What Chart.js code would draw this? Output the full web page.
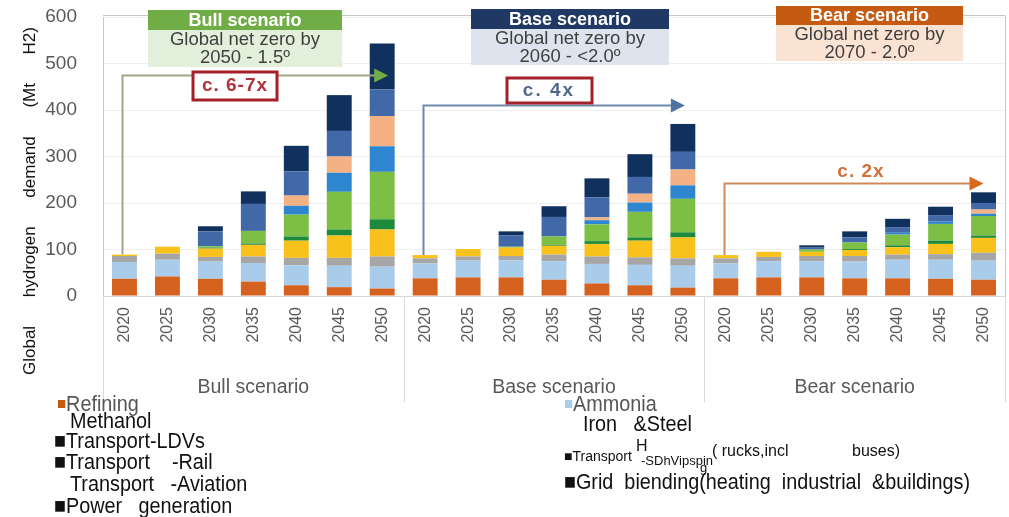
<!DOCTYPE html>
<html lang="en">
<head>
    <meta charset="UTF-8">
    <title>Global hydrogen demand</title>
    <script src="https://cdn.jsdelivr.net/npm/chart.js"></script>
    <style>
        body {
            margin: 0;
            background: #fff;
            width: 1009px;
            height: 517px;
            position: relative;
            overflow: hidden;
            font-family: "Liberation Sans", Arial, sans-serif;
        }

        #grafico {
            position: absolute;
            left: 0;
            top: 0;
        }

        .eixo-titulo {
            position: absolute;
            left: -144px;
            top: 191px;
            width: 348px;
            height: 20px;
            line-height: 20px;
            font-size: 17px;
            color: #111;
            display: flex;
            justify-content: space-between;
            transform: rotate(-90deg);
        }

        .leg {
            position: absolute;
            white-space: pre;
            line-height: 22px;
            font-size: 22px;
            color: #111;
            transform: scaleX(0.9);
            transform-origin: 0 50%;
        }

        .leg-n {
            position: absolute;
            white-space: pre;
            line-height: 18px;
            color: #111;
        }

        .quad {
            display: inline-block;
            width: 8px;
            height: 8px;
            margin-right: 1px;
            vertical-align: 3px;
        }
    </style>
</head>

<body>
    <canvas id="grafico" width="1009" height="517"></canvas>

    <div class="eixo-titulo"><span>Global</span><span>hydrogen</span><span>demand</span><span>(Mt</span><span>H2)</span></div>

    <!-- legenda (coluna esquerda) -->
    <div class="leg" style="left:58px; top:393px; color:#555"><span class="quad" style="background:#C55A11"></span>Refining</div>
    <div class="leg" style="left:70px; top:410px">Methanol</div>
    <div class="leg" style="left:54px; top:430px">■Transport-LDVs</div>
    <div class="leg" style="left:54px; top:451px">■Transport    -Rail</div>
    <div class="leg" style="left:70px; top:473px">Transport   -Aviation</div>
    <div class="leg" style="left:54px; top:495px">■Power   generation</div>

    <!-- legenda (coluna direita) -->
    <div class="leg" style="left:565px; top:393px; color:#555"><span class="quad" style="background:#A9CCEB"></span>Ammonia</div>
    <div class="leg" style="left:583px; top:413px">Iron   &amp;Steel</div>
    <div class="leg-n" style="left:564px; top:447px; font-size:14px">■Transport</div>
    <div class="leg-n" style="left:636px; top:437px; font-size:16px">H</div>
    <div class="leg-n" style="left:641px; top:452px; font-size:13px">-SDhVipspin</div>
    <div class="leg-n" style="left:700px; top:459px; font-size:13px">g</div>
    <div class="leg-n" style="left:712px; top:442px; font-size:16px">( rucks,incl</div>
    <div class="leg-n" style="left:852px; top:442px; font-size:16px">buses)</div>
    <div class="leg" style="left:564px; top:471px">■Grid  biending(heating  industrial  &amp;buildings)</div>

    <script>
        // categorias
        const scenarios = ['Bull scenario', 'Base scenario', 'Bear scenario'];
        const years = ['2020', '2025', '2030', '2035', '2040', '2045', '2050'];

        // valores (Mt H2) - 7 bull, 7 base, 7 bear
        const refining  = [37, 42, 37, 31, 23, 19, 16,   38, 40, 40, 35, 27, 23, 18,   38, 40, 40, 38, 38, 37, 35];
        const ammonia   = [36, 36, 37, 40, 43, 46, 47,   32, 36, 37, 40, 42, 44, 47,   32, 35, 35, 36, 40, 41, 41];
        const methanol  = [13, 13, 10, 14, 16, 17, 22,   11,  9,  9, 14, 16, 16, 16,   11,  9, 11, 12, 11, 12, 17];
        const ironSteel = [ 3, 15, 18, 25, 37, 48, 58,    7, 16, 18, 19, 27, 36, 45,    7, 11,  9, 13, 16, 22, 32];
        const ldvs      = [ 0,  0,  2,  3,  9, 13, 22,    0,  0,  0,  2,  6,  7, 11,    0,  0,  0,  2,  4,  7,  5];
        const hdvs      = [ 0,  0,  3, 27, 47, 81, 102,   0,  0,  2, 18, 36, 55, 72,    0,  0,  5, 14, 23, 36, 42];
        const rail      = [ 0,  0,  0,  0,  0,  0,  0,    0,  0,  0,  0,  0,  0,  0,    0,  0,  0,  0,  0,  0,  0];
        const shipping  = [ 0,  0,  0,  0, 19, 41, 55,    0,  0,  0,  0,  9, 20, 29,    0,  0,  0,  0,  4,  5,  5];
        const aviation  = [ 0,  0,  0,  0, 22, 35, 65,    0,  0,  0,  0,  6, 19, 34,    0,  0,  0,  0,  0,  0,  9];
        const power     = [ 0,  0, 32, 58, 52, 55, 57,    0,  0, 24, 42, 43, 36, 38,    0,  0,  4, 11, 11, 14, 14];
        const grid      = [ 0,  0, 11, 27, 55, 77, 99,    0,  0,  9, 23, 41, 49, 60,    0,  0,  5, 13, 19, 18, 23];

        const series = [
            { label: 'Refining', data: refining, color: '#D4621E' },
            { label: 'Ammonia', data: ammonia, color: '#A9CCEB' },
            { label: 'Methanol', data: methanol, color: '#A6A6A6' },
            { label: 'Iron & Steel', data: ironSteel, color: '#F9C11C' },
            { label: 'Transport-LDVs', data: ldvs, color: '#1C8A3A' },
            { label: 'Transport-HDVs (trucks, incl. buses)', data: hdvs, color: '#7DBF45' },
            { label: 'Transport-Rail', data: rail, color: '#BFBFBF' },
            { label: 'Transport-Shipping', data: shipping, color: '#2E86D1' },
            { label: 'Transport-Aviation', data: aviation, color: '#F4B183' },
            { label: 'Power generation', data: power, color: '#4169A8' },
            { label: 'Grid blending (heating industrial & buildings)', data: grid, color: '#10305E' }
        ];

        const labels = scenarios.flatMap(() => years);

        // caixas, setas e textos de destaque de cada cenário
        const destaques = [
            {
                titulo: 'Bull scenario', sub: ['Global net zero by', '2050 - 1.5º'],
                caixa: [148, 10, 194, 20, 37], corTitulo: '#70AD47', corSub: '#E2EFDA',
                nivel: 475, corLinha: '#A3A584', corPonta: '#70AD47', pontaX: 6,
                fator: 'c. 6-7x', fatorPos: [235, 86], fatorCor: '#B0323A', espaco: '1px',
                moldura: [193, 72, 84, 28]
            },
            {
                titulo: 'Base scenario', sub: ['Global net zero by', '2060 - <2.0º'],
                caixa: [471, 9, 198, 20, 36], corTitulo: '#1F3864', corSub: '#DEE4EE',
                nivel: 410, corLinha: '#6E8AAE', corPonta: '#4F73A3', pontaX: 2,
                fator: 'c. 4x', fatorPos: [549, 91], fatorCor: '#53698C', espaco: '2px',
                moldura: [507, 78, 85, 25]
            },
            {
                titulo: 'Bear scenario', sub: ['Global net zero by', '2070 - 2.0º'],
                caixa: [776, 6, 187, 19, 36], corTitulo: '#C55A11', corSub: '#FBE3D3',
                nivel: 243, corLinha: '#D08A5A', corPonta: '#D8691F', pontaX: 0,
                fator: 'c. 2x', fatorPos: [861, 172], fatorCor: '#D0703A', espaco: '1px',
                moldura: null
            }
        ];

        const pluginCenarios = {
            id: 'cenarios',
            afterDraw(chart) {
                const { ctx, chartArea: a, scales: { x, y } } = chart;
                const n = years.length;
                ctx.save();

                // moldura do gráfico
                ctx.strokeStyle = '#C8C8C8';
                ctx.lineWidth = 1;
                ctx.beginPath();
                ctx.moveTo(a.left, a.top - 1.5);
                ctx.lineTo(a.right + 0.5, a.top - 1.5);
                ctx.lineTo(a.right + 0.5, a.bottom);
                ctx.stroke();

                // divisões entre cenários no eixo x
                const bordas = [a.left + 0.5];
                for (let g = 1; g < scenarios.length; g++) {
                    bordas.push(Math.round((x.getPixelForValue(g * n - 1) + x.getPixelForValue(g * n)) / 2) + 0.5);
                }
                bordas.push(a.right + 0.5);
                ctx.strokeStyle = '#D9D9D9';
                bordas.forEach(px => {
                    ctx.beginPath();
                    ctx.moveTo(px, a.bottom);
                    ctx.lineTo(px, a.bottom + 106);
                    ctx.stroke();
                });

                ctx.fillStyle = '#595959';
                ctx.font = '19.5px "Liberation Sans", Arial, sans-serif';
                ctx.textAlign = 'center';
                ctx.textBaseline = 'middle';
                scenarios.forEach((s, g) => {
                    ctx.fillText(s, x.getPixelForValue(g * n + 3), a.bottom + 92);
                });

                // setas de crescimento
                destaques.forEach((d, g) => {
                    const i0 = g * n, i1 = g * n + n - 1;
                    const total0 = series.reduce((s, serie) => s + serie.data[i0], 0);
                    const x0 = Math.round(x.getPixelForValue(i0)) - 1.5;
                    const y0 = y.getPixelForValue(total0);
                    const yl = Math.round(y.getPixelForValue(d.nivel)) + 0.5;
                    const xp = x.getPixelForValue(i1) + d.pontaX;
                    ctx.strokeStyle = d.corLinha;
                    ctx.lineWidth = 2;
                    ctx.beginPath();
                    ctx.moveTo(x0, y0);
                    ctx.lineTo(x0, yl);
                    ctx.lineTo(xp - 12, yl);
                    ctx.stroke();
                    ctx.fillStyle = d.corPonta;
                    ctx.beginPath();
                    ctx.moveTo(xp, yl);
                    ctx.lineTo(xp - 14, yl - 7);
                    ctx.lineTo(xp - 14, yl + 7);
                    ctx.closePath();
                    ctx.fill();
                });

                // caixas de título dos cenários
                destaques.forEach(d => {
                    const [bx, by, bw, h1, h2] = d.caixa;
                    ctx.fillStyle = d.corTitulo;
                    ctx.fillRect(bx, by, bw, h1);
                    ctx.fillStyle = d.corSub;
                    ctx.fillRect(bx, by + h1, bw, h2);
                    ctx.fillStyle = '#fff';
                    ctx.font = 'bold 18px "Liberation Sans", Arial, sans-serif';
                    ctx.fillText(d.titulo, bx + bw / 2, by + h1 / 2 + 1);
                    ctx.fillStyle = '#404040';
                    ctx.font = '18.5px "Liberation Sans", Arial, sans-serif';
                    ctx.fillText(d.sub[0], bx + bw / 2, by + h1 + 10);
                    ctx.fillText(d.sub[1], bx + bw / 2, by + h1 + 28);

                    if (d.moldura) {
                        const [mx, my, mw, mh] = d.moldura;
                        ctx.fillStyle = '#fff';
                        ctx.fillRect(mx, my, mw, mh);
                        ctx.strokeStyle = '#A5202A';
                        ctx.lineWidth = 3;
                        ctx.strokeRect(mx, my, mw, mh);
                    }
                    ctx.fillStyle = d.fatorCor;
                    ctx.font = 'bold 19px "Liberation Sans", Arial, sans-serif';
                    ctx.letterSpacing = d.espaco;
                    ctx.fillText(d.fator, d.fatorPos[0], d.fatorPos[1]);
                    ctx.letterSpacing = '0px';
                });

                ctx.restore();
            }
        };

        new Chart(document.getElementById('grafico'), {
            type: 'bar',
            data: {
                labels: labels,
                datasets: series.map(s => ({
                    label: s.label,
                    data: s.data,
                    backgroundColor: s.color,
                    borderWidth: 0,
                    barPercentage: 0.58,
                    categoryPercentage: 1
                }))
            },
            options: {
                responsive: false,
                animation: false,
                layout: { padding: { top: 17, right: 4, bottom: 117, left: 0 } },
                plugins: {
                    legend: { display: false },
                    tooltip: { enabled: false }
                },
                scales: {
                    x: {
                        stacked: true,
                        grid: { display: false },
                        border: { display: true, color: '#D9D9D9' },
                        ticks: {
                            autoSkip: false,
                            maxRotation: 90,
                            minRotation: 90,
                            padding: 3,
                            color: '#595959',
                            font: { size: 16, family: '"Liberation Sans", Arial, sans-serif' }
                        },
                        afterFit: s => { s.height = 104; }
                    },
                    y: {
                        stacked: true,
                        min: 0,
                        max: 600,
                        grid: { color: '#EFEFEF', drawTicks: false },
                        border: { display: true, color: '#C8C8C8' },
                        ticks: {
                            stepSize: 100,
                            padding: 26,
                            color: '#595959',
                            font: { size: 19, family: '"Liberation Sans", Arial, sans-serif' }
                        },
                        afterFit: s => {
                            s.width = 103;
                            s.paddingTop = 0;
                            s.paddingBottom = 0;
                        }
                    }
                }
            },
            plugins: [pluginCenarios]
        });
    </script>
</body>

</html>
